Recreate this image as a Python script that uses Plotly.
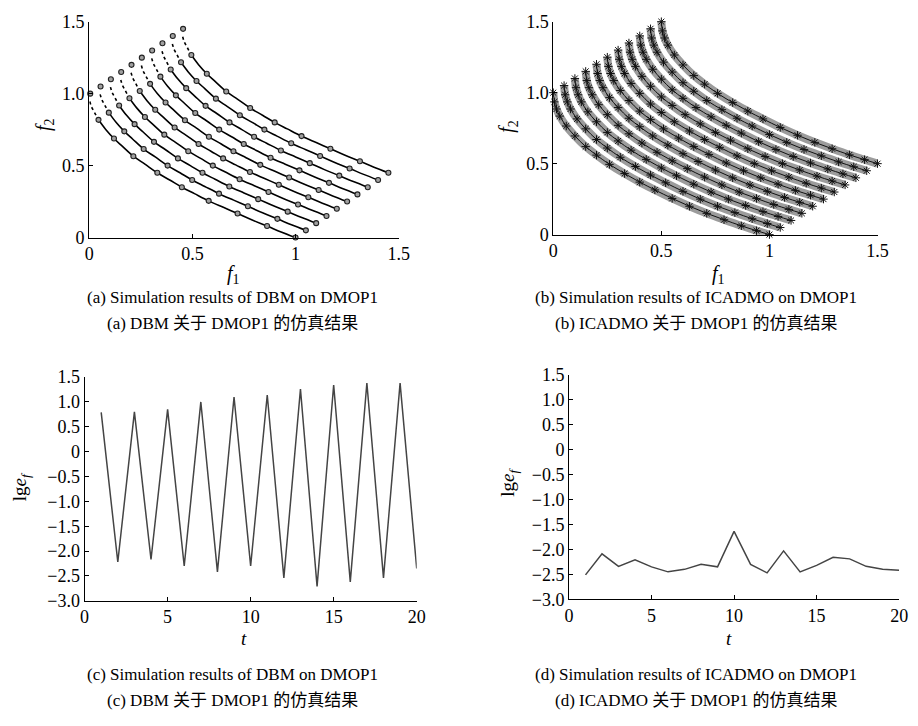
import plotly.graph_objects as go

W, H = 918, 726

# ---------------- Panel (a): DBM on DMOP1 ----------------
a_offsets = [0.00, 0.05, 0.10, 0.15, 0.20, 0.25, 0.30, 0.35, 0.40, 0.45]
a_start_x = [0.005]
a_start_y = [1.0]
a_dot_x = [0.003, 0.01, 0.02, 0.03, 0.045]
a_dot_y = [0.945, 0.91, 0.884, 0.855, 0.818]
a_curve_x = [0.045, 0.08, 0.12, 0.16, 0.214, 0.27, 0.33, 0.39, 0.449, 0.51,
             0.579, 0.65, 0.719, 0.79, 0.862, 0.93, 1.0]
a_curve_y = [0.818, 0.751, 0.688, 0.635, 0.565, 0.51, 0.45, 0.40, 0.35, 0.305,
             0.255, 0.21, 0.167, 0.122, 0.08, 0.039, 0.0]
a_circ_x = [0.045, 0.12, 0.214, 0.33, 0.449, 0.579, 0.719, 0.862, 1.0]
a_circ_y = [0.818, 0.688, 0.565, 0.45, 0.35, 0.255, 0.167, 0.08, 0.0]

# ---------------- Panel (b): ICADMO on DMOP1 ----------------
b_offsets = [0.00, 0.05, 0.10, 0.15, 0.20, 0.25, 0.30, 0.35, 0.40, 0.45, 0.50]
b_curve_x = [0.0, 0.005, 0.015, 0.03, 0.06, 0.1, 0.15, 0.2, 0.26, 0.33, 0.4,
             0.47, 0.55, 0.63, 0.71, 0.79, 0.87, 0.94, 1.0]
b_curve_y = [1.0, 0.935, 0.885, 0.835, 0.765, 0.695, 0.62, 0.56, 0.495, 0.43, 0.37,
             0.315, 0.255, 0.2, 0.15, 0.105, 0.062, 0.028, 0.0]

# ---------------- Panels (c), (d): lg e_f over t ----------------
t_vals = list(range(1, 21))
c_vals = [0.79, -2.22, 0.80, -2.17, 0.85, -2.30, 1.00, -2.42, 1.10, -2.30,
          1.14, -2.54, 1.26, -2.71, 1.34, -2.62, 1.38, -2.54, 1.38, -2.35]
d_vals = [-2.51, -2.09, -2.34, -2.21, -2.35, -2.45, -2.40, -2.30, -2.35, -1.64,
          -2.30, -2.47, -2.03, -2.45, -2.32, -2.16, -2.19, -2.34, -2.40, -2.42]

# tick labels
f_xticks = [0, 0.5, 1, 1.5]
f_xtext = ["0", "0.5", "1", "1.5"]
f_yticks = [0, 0.5, 1.0, 1.5]
f_ytext = ["0", "0.5", "1.0", "1.5"]
t_ticks = [0, 5, 10, 15, 20]
t_text = ["0", "5", "10", "15", "20"]
e_ticks = [1.5, 1.0, 0.5, 0, -0.5, -1.0, -1.5, -2.0, -2.5, -3.0]
e_text = ["1.5", "1.0", "0.5", "0", "\u22120.5", "\u22121.0", "\u22121.5",
          "\u22122.0", "\u22122.5", "\u22123.0"]

captions = [
    ("(a) Simulation results of DBM on DMOP1", 232, 296),
    ("(a) DBM 关于 DMOP1 的仿真结果", 232, 322),
    ("(b) Simulation results of ICADMO on DMOP1", 703, 296),
    ("(b) ICADMO 关于 DMOP1 的仿真结果", 703, 322),
    ("(c) Simulation results of DBM on DMOP1", 232, 683),
    ("(c) DBM 关于 DMOP1 的仿真结果", 232, 710),
    ("(d) Simulation results of ICADMO on DMOP1", 703, 683),
    ("(d) ICADMO 关于 DMOP1 的仿真结果", 703, 710),
]

FONT = "'Liberation Serif', 'Noto Sans CJK SC', serif"

fig = go.Figure()

# Panel (a) traces
for off in a_offsets:
    fig.add_trace(go.Scatter(
        x=[v + off for v in a_dot_x], y=[v + off for v in a_dot_y],
        mode="lines", line=dict(color="black", width=1.6, dash="dot"),
        xaxis="x", yaxis="y", showlegend=False, cliponaxis=False))
    fig.add_trace(go.Scatter(
        x=[v + off for v in a_curve_x], y=[v + off for v in a_curve_y],
        mode="lines", line=dict(color="black", width=1.6, shape="spline"),
        xaxis="x", yaxis="y", showlegend=False, cliponaxis=False))
    fig.add_trace(go.Scatter(
        x=[v + off for v in a_circ_x + a_start_x],
        y=[v + off for v in a_circ_y + a_start_y],
        mode="markers",
        marker=dict(symbol="circle", size=5, color="#a0a0a0",
                    line=dict(color="#222", width=1.1)),
        xaxis="x", yaxis="y", showlegend=False, cliponaxis=False))

# Panel (b) traces
for off in b_offsets:
    bx = [v + off for v in b_curve_x]
    by = [v + off for v in b_curve_y]
    fig.add_trace(go.Scatter(
        x=bx, y=by, mode="lines",
        line=dict(color="#9c9c9c", width=8, shape="spline"),
        xaxis="x2", yaxis="y2", showlegend=False, cliponaxis=False))
    fig.add_trace(go.Scatter(
        x=bx, y=by, mode="lines+markers",
        line=dict(color="#111", width=1.0, shape="spline"),
        marker=dict(symbol="asterisk-open", size=7,
                    line=dict(color="#2a2a2a", width=1.0)),
        xaxis="x2", yaxis="y2", showlegend=False, cliponaxis=False))

# Panel (c) and (d)
fig.add_trace(go.Scatter(x=t_vals, y=c_vals, mode="lines",
                         line=dict(color="#444", width=1.5),
                         xaxis="x3", yaxis="y3", showlegend=False))
fig.add_trace(go.Scatter(x=t_vals, y=d_vals, mode="lines",
                         line=dict(color="#444", width=1.5),
                         xaxis="x4", yaxis="y4", showlegend=False))


def px(x):
    return x / W


def py(y):
    return 1 - y / H


def axis(domain, rng, tv, tt, anchor):
    return dict(domain=domain, range=rng, tickvals=tv, ticktext=tt,
                showline=True, linecolor="black", linewidth=1,
                ticks="inside", ticklen=4, tickcolor="black", tickwidth=1,
                showgrid=False, zeroline=False, anchor=anchor,
                tickfont=dict(family=FONT, size=18, color="black"))


layout = dict(
    width=W, height=H, margin=dict(l=0, r=0, t=0, b=0),
    paper_bgcolor="white", plot_bgcolor="white",
    font=dict(family=FONT, size=18, color="black"),
    xaxis=axis([px(85.7), px(400.7)], [0, 1.5], f_xticks, f_xtext, "y"),
    yaxis=axis([py(234), py(12)], [0, 1.5], f_yticks, f_ytext, "x"),
    xaxis2=axis([px(558), px(888)], [0, 1.5], f_xticks, f_xtext, "y2"),
    yaxis2=axis([py(231), py(12)], [0, 1.5], f_yticks, f_ytext, "x2"),
    xaxis3=axis([px(81), px(419)], [0, 20], t_ticks, t_text, "y3"),
    yaxis3=axis([py(607.5), py(377.5)], [-3.0, 1.5], e_ticks, e_text, "x3"),
    xaxis4=axis([px(574), px(910)], [0, 20], t_ticks, t_text, "y4"),
    yaxis4=axis([py(606), py(375)], [-3.0, 1.5], e_ticks, e_text, "x4"),
)

ann = []


def label(text, x, y, size=18, angle=0):
    ann.append(dict(text=text, x=px(x), y=py(y), xref="paper", yref="paper",
                    showarrow=False, textangle=angle, xanchor="center",
                    yanchor="middle",
                    font=dict(family=FONT, size=size, color="black")))


label("<i>f</i><sub>2</sub>", 40, 118, size=20, angle=-90)
label("<i>f</i><sub>1</sub>", 233, 272, size=20)
label("<i>f</i><sub>2</sub>", 512, 120, size=20, angle=-90)
label("<i>f</i><sub>1</sub>", 726, 272, size=20)
label("lg<i>e</i><sub><i>f</i></sub>", 16, 490, size=19, angle=-90)
label("lg<i>e</i><sub><i>f</i></sub>", 513, 486, size=19, angle=-90)
label("<i>t</i>", 243, 646, size=19)
label("<i>t</i>", 737, 646, size=19)
for text, x, y in captions:
    label(text, x, y, size=17)

layout["annotations"] = ann
fig.update_layout(**layout)

fig.write_html("out.html")
